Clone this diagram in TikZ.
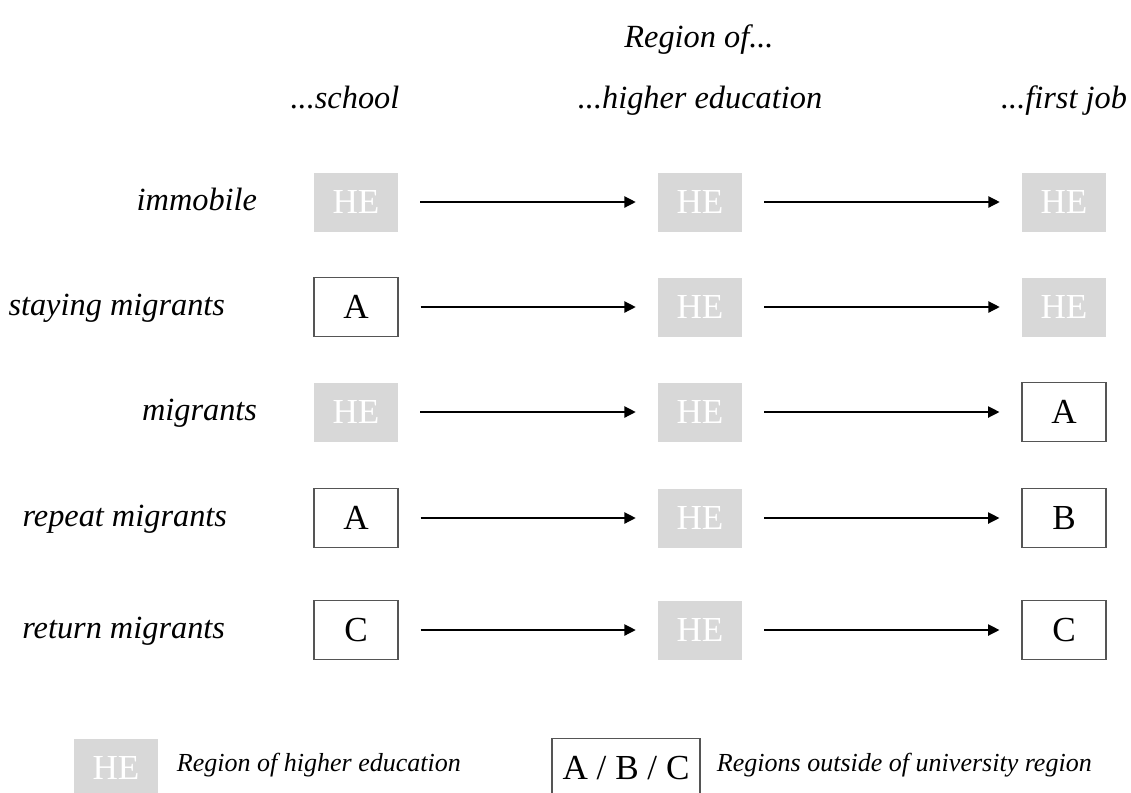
\documentclass[tikz,border=0pt]{standalone}
\usepackage{fontspec}
\setmainfont{Liberation Serif}
\usetikzlibrary{arrows.meta}
\definecolor{hegray}{RGB}{216,216,216}
\definecolor{boxline}{RGB}{85,85,85}
\begin{document}
\begin{tikzpicture}[x=0.025cm,y=-0.025cm,
    hebox/.style={fill=hegray,text=white,minimum width=2.1cm,minimum height=1.475cm,
      inner sep=0pt,font=\fontsize{25}{25}\selectfont},
    regbox/.style={draw=boxline,line width=0.8pt,fill=white,text=black,minimum width=2.1cm,
      minimum height=1.475cm,inner sep=0pt,font=\fontsize{25}{25}\selectfont},
    rowlabel/.style={anchor=base east,font=\fontsize{23}{23}\selectfont\itshape},
    colhead/.style={anchor=base,font=\fontsize{23}{23}\selectfont\itshape},
    legtext/.style={anchor=base west,font=\fontsize{18.5}{18.5}\selectfont\itshape},
    flow/.style={-{Triangle[length=8pt,width=8pt]},line width=0.9pt,
      shorten <=0.55cm,shorten >=0.55cm}]
  \clip (0,0) rectangle (1131,792);
  % headings
  \draw
    (699,47) node[colhead] (region){Region of...}
    (345,108) node[colhead] (school){...school}
    (700,108) node[colhead] (higher){...higher education}
    (1064,108) node[colhead] (job){...first job};
  % rows
  \draw
    (262,210) node[rowlabel] (l1){immobile}
    (356,202) node[hebox] (s1){HE}
    (700,202) node[hebox] (h1){HE}
    (1064,202) node[hebox] (j1){HE}
    (230,315) node[rowlabel] (l2){staying migrants}
    (356,307) node[regbox] (s2){A}
    (700,307) node[hebox] (h2){HE}
    (1064,307) node[hebox] (j2){HE}
    (262,420) node[rowlabel] (l3){migrants}
    (356,412) node[hebox] (s3){HE}
    (700,412) node[hebox] (h3){HE}
    (1064,412) node[regbox] (j3){A}
    (232,526) node[rowlabel] (l4){repeat migrants}
    (356,518) node[regbox] (s4){A}
    (700,518) node[hebox] (h4){HE}
    (1064,518) node[regbox] (j4){B}
    (230,638) node[rowlabel] (l5){return migrants}
    (356,630) node[regbox] (s5){C}
    (700,630) node[hebox] (h5){HE}
    (1064,630) node[regbox] (j5){C};
  \begin{scope}[flow]
    \draw (s1) to (h1);
    \draw (h1) to (j1);
    \draw (s2) to (h2);
    \draw (h2) to (j2);
    \draw (s3) to (h3);
    \draw (h3) to (j3);
    \draw (s4) to (h4);
    \draw (h4) to (j4);
    \draw (s5) to (h5);
    \draw (h5) to (j5);
  \end{scope}
  % legend
  \draw
    (116,768) node[hebox] (legHE){HE}
    (172,771) node[legtext] (legHEtext){Region of higher education}
    (626,768) node[regbox,minimum width=3.7cm] (legABC){A / B / C}
    (712,771) node[legtext] (legABCtext){Regions outside of university region};
\end{tikzpicture}
\end{document}
